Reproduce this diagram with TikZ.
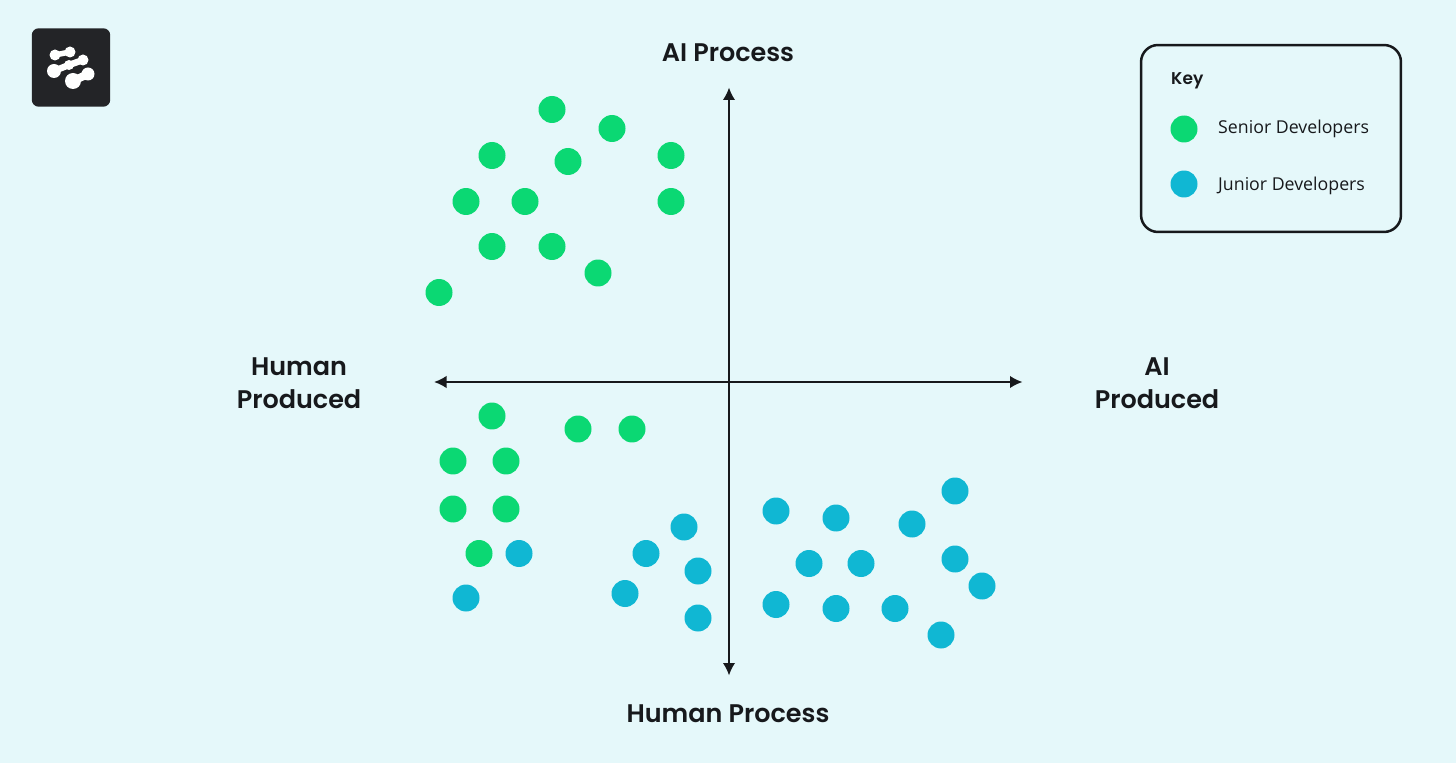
\documentclass[tikz,border=0pt]{standalone}
\usepackage{fontspec}
\setmainfont{Poppins SemiBold}
\newfontfamily\keyfont{Open Sans}
\usetikzlibrary{arrows.meta}
\definecolor{bgblue}{HTML}{E5F8FA}
\definecolor{inkdark}{HTML}{17191C}
\definecolor{logodark}{HTML}{232427}
\definecolor{seniorgreen}{HTML}{0BD873}
\definecolor{juniorblue}{HTML}{10B7D3}
\tikzset{
  x=0.02cm,y=-0.02cm,
  dot/.style={circle,inner sep=0pt,minimum size=0.54cm},
  senior/.style={dot,fill=seniorgreen},
  junior/.style={dot,fill=juniorblue},
  axislabel/.style={text=inkdark,font=\fontsize{14.5}{18.7}\selectfont,align=center},
  keytext/.style={text=inkdark,font=\keyfont\fontsize{10.1}{12}\selectfont,anchor=west},
  axis/.style={line width=0.04cm,draw=inkdark,{Latex[length=0.25cm,width=0.25cm]}-{Latex[length=0.25cm,width=0.25cm]}},
  blob/.style={draw=white,line cap=round,line join=round}
}
\begin{document}
\begin{tikzpicture}
  \fill[bgblue] (0,0) rectangle (1456,763);
  \useasboundingbox (0,0) rectangle (1456,763);
  % logo
  \node[fill=logodark,rounded corners=0.14cm,inner sep=0pt,minimum size=1.57cm] (logo) at (71,67.5) {};
  \fill[white] (55,55) circle (0.11cm) (70,52) circle (0.11cm);
  \fill[white] (54,71) circle (0.14cm) (83,60) circle (0.11cm) (69,65) circle (0.1cm);
  \fill[white] (73,81) circle (0.16cm) (88,74) circle (0.13cm);
  \draw[blob,line width=0.11cm] (55,55) -- (70,52);
  \draw[blob,line width=0.13cm] (54,71) -- (69,65) -- (83,60);
  \draw[blob,line width=0.16cm] (73,81) -- (88,74);
  % axes
  \coordinate (top) at (729,87.5);
  \coordinate (bottom) at (729,675.5);
  \coordinate (left) at (434,382);
  \coordinate (right) at (1022.5,382);
  \draw[axis] (top) to (bottom);
  \draw[axis] (left) to (right);
  \node[axislabel] (aiprocess) at (728,53) {AI Process};
  \node[axislabel] (humanprocess) at (728,714) {Human Process};
  \node[axislabel] (humanproduced) at (299,383) {Human\\Produced};
  \node[axislabel] (aiproduced) at (1157,383) {AI\\Produced};
  % senior developers
  \draw
    (552,109.5) node[senior] (s0){}
    (612,128.5) node[senior] (s1){}
    (492,155.5) node[senior] (s2){}
    (568,161.5) node[senior] (s3){}
    (671,155.5) node[senior] (s4){}
    (466,201.5) node[senior] (s5){}
    (525,201.5) node[senior] (s6){}
    (671,201.5) node[senior] (s7){}
    (492,246.5) node[senior] (s8){}
    (552,246.5) node[senior] (s9){}
    (598,273) node[senior] (s10){}
    (439,292.5) node[senior] (s11){}
    (492,416) node[senior] (s12){}
    (578,429) node[senior] (s13){}
    (632,429) node[senior] (s14){}
    (453,461) node[senior] (s15){}
    (506,461) node[senior] (s16){}
    (453,509) node[senior] (s17){}
    (506,509) node[senior] (s18){}
    (479,553.5) node[senior] (s19){};
  % junior developers
  \draw
    (519,553.5) node[junior] (j0){}
    (466,598) node[junior] (j1){}
    (684,527) node[junior] (j2){}
    (646,553.5) node[junior] (j3){}
    (698,571) node[junior] (j4){}
    (625,593.5) node[junior] (j5){}
    (698,618) node[junior] (j6){}
    (776,511) node[junior] (j7){}
    (836,518) node[junior] (j8){}
    (912,524) node[junior] (j9){}
    (955,491) node[junior] (j10){}
    (809,563.5) node[junior] (j11){}
    (861,563.5) node[junior] (j12){}
    (955,559) node[junior] (j13){}
    (982,586) node[junior] (j14){}
    (776,604.5) node[junior] (j15){}
    (836,608.5) node[junior] (j16){}
    (895,608.5) node[junior] (j17){}
    (941,635) node[junior] (j18){};
  % key
  \node[draw=inkdark,line width=0.05cm,rounded corners=0.34cm,inner sep=0pt,minimum width=5.2cm,minimum height=3.74cm] (keybox) at (1271,138.5) {};
  \node[text=inkdark,font=\fontsize{9.7}{12}\selectfont,anchor=west] (keytitle) at (1165,80.5) {Key};
  \node[senior] (keysenior) at (1184,129) {};
  \node[junior] (keyjunior) at (1184,184) {};
  \node[keytext] (seniortext) at (1212,129) {Senior Developers};
  \node[keytext] (juniortext) at (1212,185.5) {Junior Developers};
\end{tikzpicture}
\end{document}
